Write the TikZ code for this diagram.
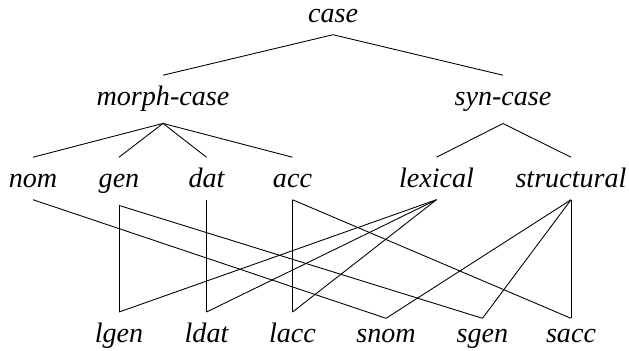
\documentclass[tikz,border=0pt]{standalone}
\usepackage{fontspec}
\setmainfont{Liberation Serif}
\usepackage{tikz}
\usetikzlibrary{positioning}

\begin{document}
\begin{tikzpicture}[line width=0.5pt,
  lbl/.style={inner xsep=0pt, inner ysep=0.22cm, anchor=base, font=\fontsize{16}{19}\selectfont\itshape},
  tree/.style={lbl, text height=11pt}]
\useasboundingbox (0,0) rectangle (12.58,7.02);

% upper tree
\node[lbl]  (case)  at (6.66,6.56) {case};
\node[tree] (morph) at (3.26,4.90) {morph-case};
\node[tree] (syn)   at (10.06,4.90) {syn-case};
\node[tree] (nom)   at (0.66,3.26) {nom};
\node[tree] (gen)   at (2.38,3.26) {gen};
\node[tree] (dat)   at (4.13,3.26) {dat};
\node[tree] (acc)   at (5.85,3.26) {acc};
\node[tree] (lex)   at (8.73,3.26) {lexical};
\node[tree] (str)   at (11.42,3.26) {structural};

\draw (case.south) -- (morph.north);
\draw (case.south) -- (syn.north);
\foreach \c in {nom,gen,dat,acc} \draw (morph.south) -- (\c.north);
\foreach \c in {lex,str} \draw (syn.south) -- (\c.north);

% lower row
\node[lbl] (lgen) at (2.38,0.16) {lgen};
\node[lbl] (ldat) at (4.13,0.16) {ldat};
\node[lbl] (lacc) at (5.85,0.16) {lacc};
\node[lbl] (snom) at (7.72,0.16) {snom};
\node[lbl] (sgen) at (9.65,0.16) {sgen};
\node[lbl] (sacc) at (11.42,0.16) {sacc};

\draw (nom.south) -- (snom.north);
\draw (gen.south) -- (lgen.north);
\draw (gen.south) -- (sgen.north);
\draw (dat.south) -- (ldat.north);
\draw (acc.south) -- (lacc.north);
\draw (acc.south) -- (sacc.north);
\foreach \c in {lgen,ldat,lacc} \draw (lex.south) -- (\c.north);
\foreach \c in {snom,sgen,sacc} \draw (str.south) -- (\c.north);

\end{tikzpicture}
\end{document}
